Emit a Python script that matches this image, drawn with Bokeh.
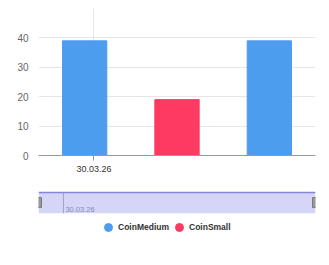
from bokeh.plotting import figure
from bokeh.layouts import column
from bokeh.models import Range1d, FixedTicker, Legend, LegendItem, ColumnDataSource
from bokeh.core.properties import value
from bokeh.embed import file_html
from bokeh.resources import INLINE

# ---- data ----
series = ["CoinMedium", "CoinSmall", "CoinMedium"]
values = [39, 19, 39]
legend_names = ["CoinMedium", "CoinSmall"]
date_labels = ["30.03.26"]
y_ticks = [0, 10, 20, 30, 40]

colors = {"CoinMedium": "#4c9ded", "CoinSmall": "#fc3a62"}
FONT = "Liberation Sans"
BL, BR = 38, 14

# ---- main chart ----
p = figure(width=329, height=180, output_backend="svg", toolbar_location=None,
           x_range=Range1d(0, 3), y_range=Range1d(0, 50),
           min_border_left=BL, min_border_right=BR, min_border_top=8, min_border_bottom=25)
p.outline_line_color = None
p.background_fill_color = "white"
p.border_fill_color = "white"

xs = [i + 0.5 for i in range(len(values))]
src = ColumnDataSource(dict(x=xs, top=values, color=[colors[s] for s in series]))
p.vbar(x="x", top="top", width=0.48, bottom=0, fill_color="color", line_color="color", source=src)

date_pos = 0.6
p.xaxis.ticker = FixedTicker(ticks=[date_pos])
p.xaxis.major_label_overrides = {date_pos: date_labels[0]}
p.xaxis.axis_line_color = "#999999"
p.xaxis.major_tick_line_color = "#999999"
p.xaxis.major_tick_out = 5
p.xaxis.major_tick_in = 0
p.xaxis.minor_tick_line_color = None
p.xaxis.major_label_standoff = 5
p.xaxis.major_label_text_font = FONT
p.xaxis.major_label_text_font_size = "9px"
p.xaxis.major_label_text_color = "#333333"

p.yaxis.ticker = FixedTicker(ticks=y_ticks)
p.yaxis.axis_line_color = None
p.yaxis.major_tick_line_color = None
p.yaxis.minor_tick_line_color = None
p.yaxis.major_tick_out = 0
p.yaxis.major_tick_in = 0
p.yaxis.major_label_standoff = 10
p.yaxis.major_label_text_font = FONT
p.yaxis.major_label_text_font_size = "10px"
p.yaxis.major_label_text_color = "#666666"

p.ygrid.ticker = FixedTicker(ticks=y_ticks + [50])
p.ygrid.grid_line_color = "#e6e6e6"
p.xgrid.ticker = FixedTicker(ticks=[date_pos])
p.xgrid.grid_line_color = "#e6e6e6"

# ---- navigator ----
nav_start, nav_end = 0, 3
nav = figure(width=329, height=36, output_backend="svg", toolbar_location=None,
             x_range=Range1d(nav_start, nav_end), y_range=Range1d(0, 23 / 21),
             x_axis_type=None, y_axis_type=None,
             min_border_left=BL, min_border_right=BR, min_border_top=10, min_border_bottom=3)
nav.outline_line_color = None
nav.grid.visible = False
nav.background_fill_color = "white"
nav.border_fill_color = "white"
nav.quad(left=[nav_start], right=[nav_end], bottom=[0], top=[1],
         fill_color="#d5d5f8", line_color=None)
nav.segment(x0=[nav_start], x1=[nav_end], y0=[1], y1=[1], line_color="#8585dd", line_width=1.5)
nav_tick = 0.27
nav.segment(x0=[nav_tick], x1=[nav_tick], y0=[0], y1=[1], line_color="#a0a0cc", line_width=1)
nav.text(x=[nav_tick], y=[0.08], text=date_labels, x_offset=2, text_baseline="bottom",
         text_font_size="7.5px", text_color="#8a8ab5", text_font=value(FONT))
nav.rect(x=[nav_start, nav_end], y=[0.52, 0.52], width=6, height=10,
         width_units="screen", height_units="screen",
         fill_color="#999999", line_color="#7a7a7a")

# ---- legend ----
leg = figure(width=329, height=49, output_backend="svg", toolbar_location=None,
             x_range=Range1d(0, 1), y_range=Range1d(0, 1),
             x_axis_type=None, y_axis_type=None,
             min_border_left=BL, min_border_right=BR, min_border_top=0, min_border_bottom=0)
leg.outline_line_color = None
leg.grid.visible = False
items = []
for name in legend_names:
    r = leg.scatter(x=[-5], y=[-5], marker="circle", size=9,
                    fill_color=colors[name], line_color=colors[name])
    items.append(LegendItem(label=name, renderers=[r]))
legend = Legend(items=items, orientation="horizontal", location=(60, 28),
                margin=0, padding=0, border_line_color=None, background_fill_alpha=0,
                label_text_font=FONT, label_text_font_size="8.5px", label_text_font_style="bold",
                label_text_color="#333333", glyph_height=20, glyph_width=20,
                label_height=20, label_standoff=0, spacing=0)
leg.add_layout(legend, "center")

layout = column(p, nav, leg, spacing=0)
open("out.html", "w").write(file_html(layout, INLINE))
